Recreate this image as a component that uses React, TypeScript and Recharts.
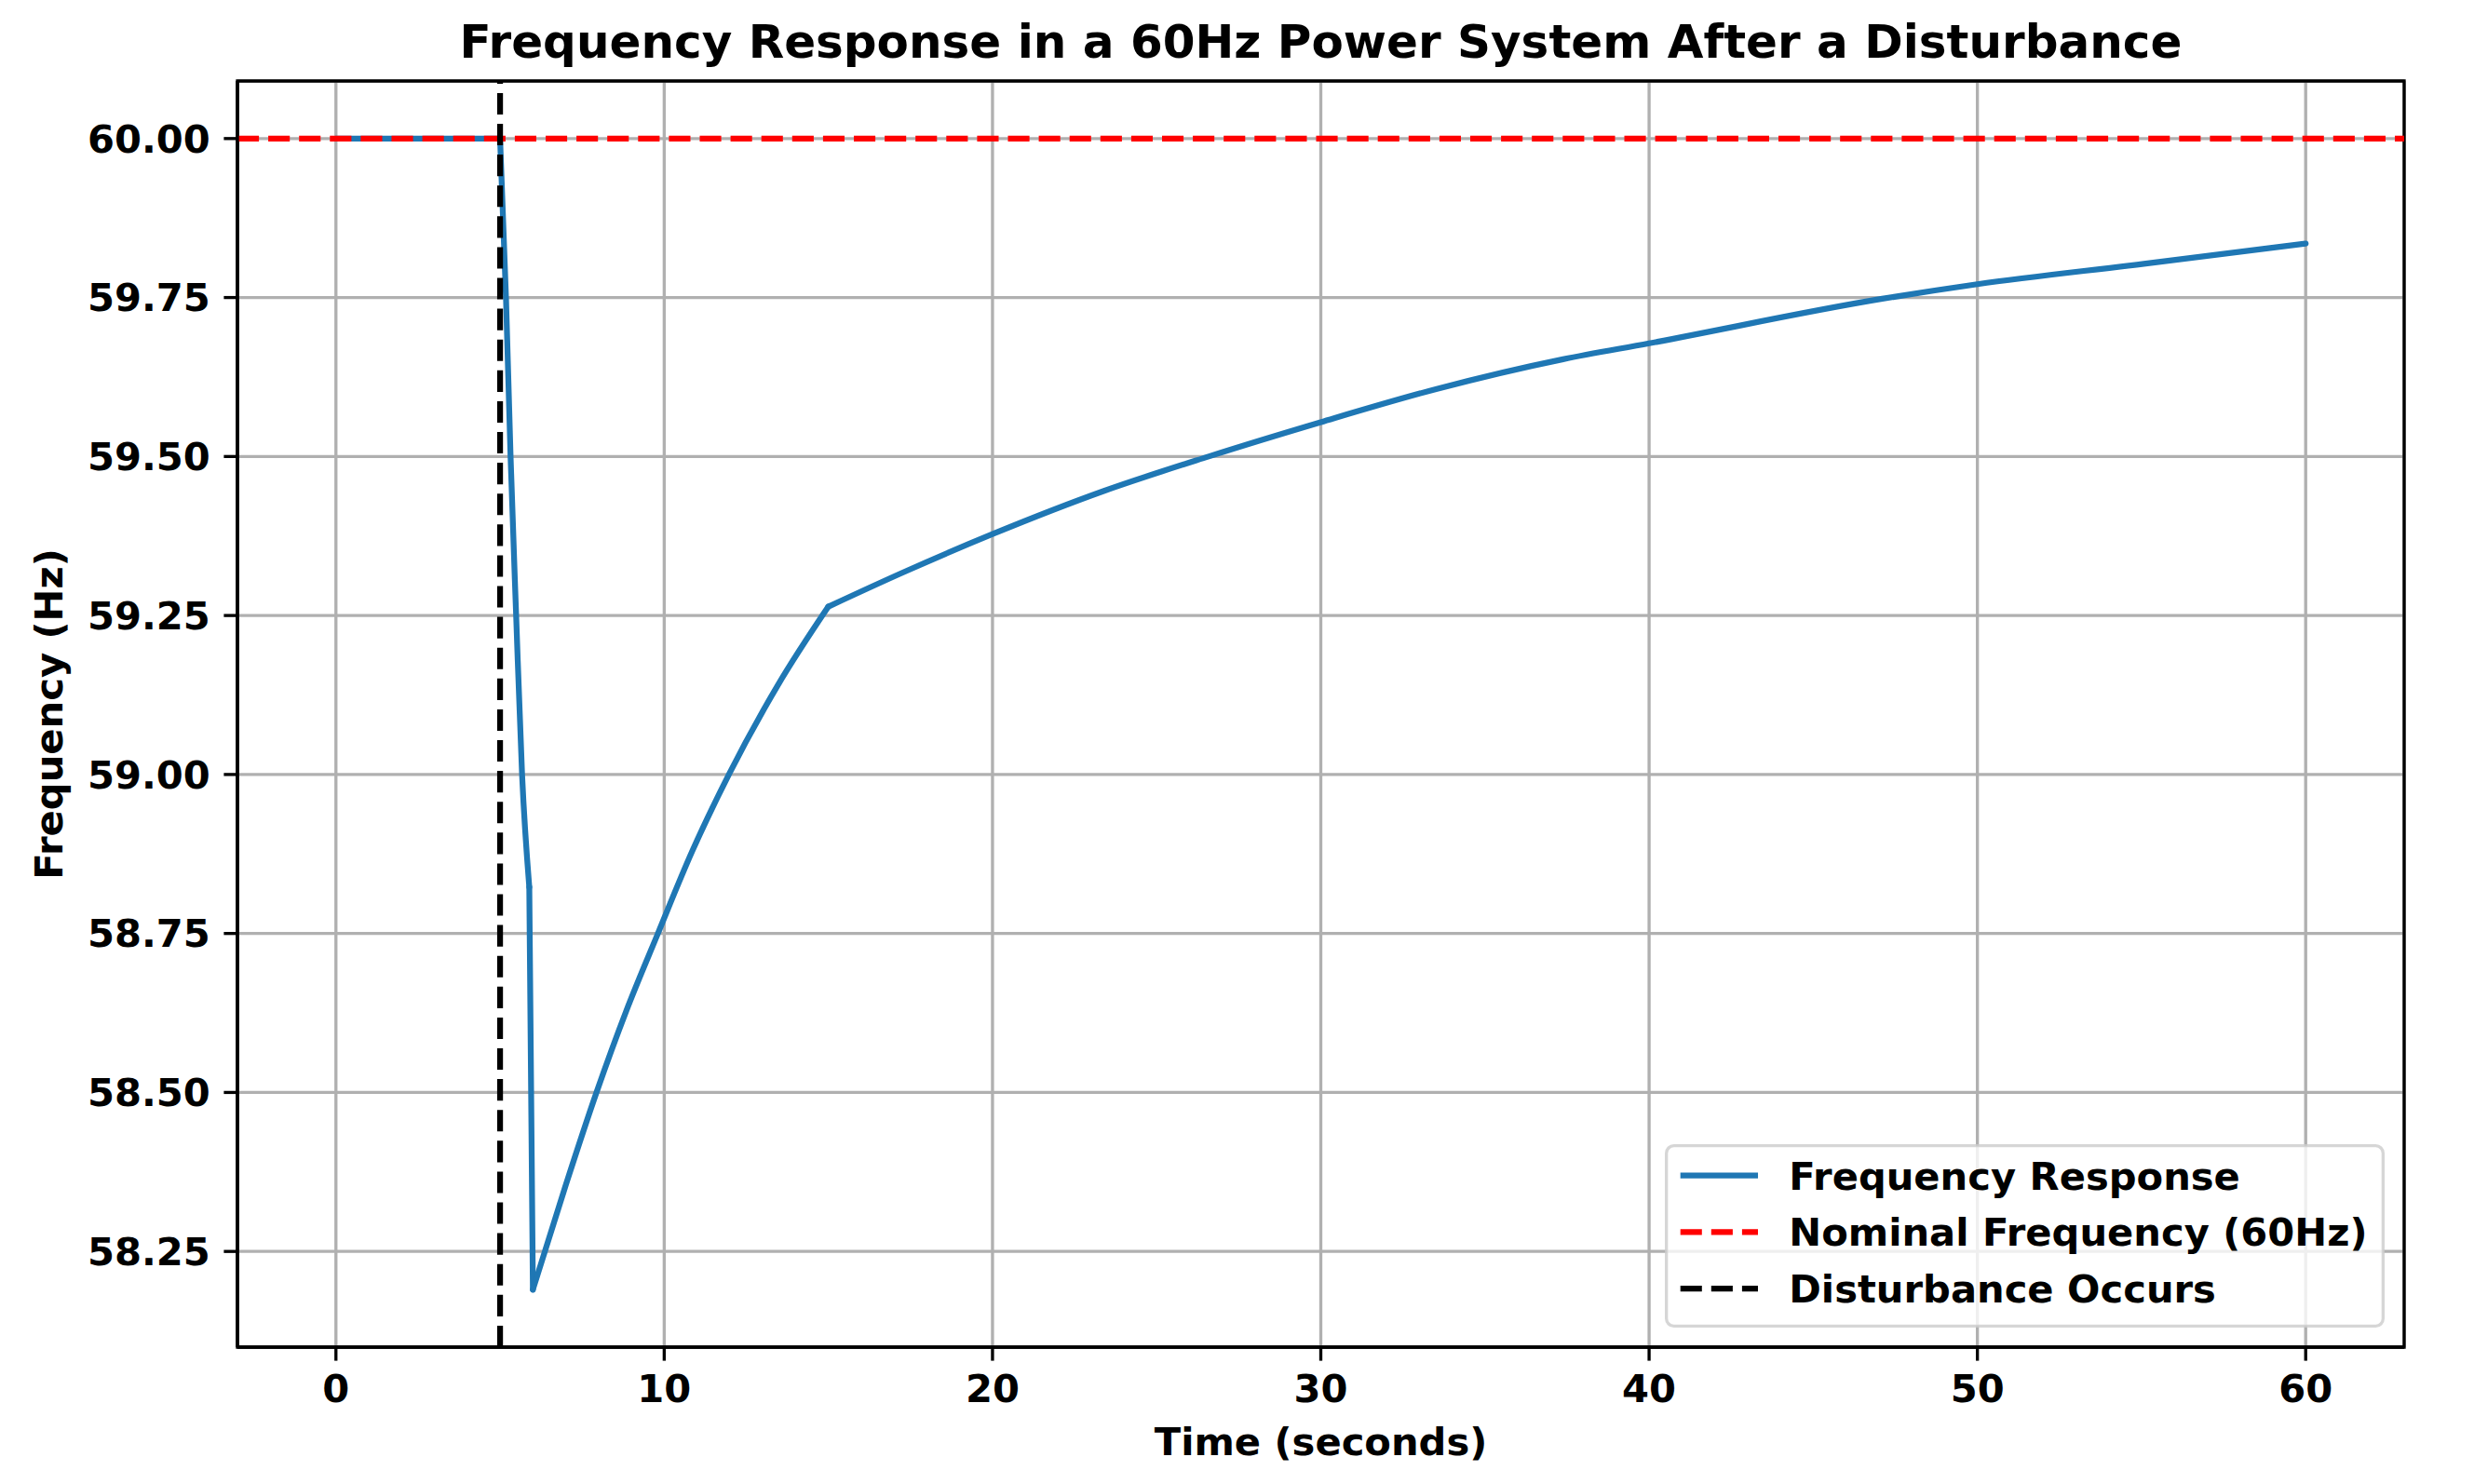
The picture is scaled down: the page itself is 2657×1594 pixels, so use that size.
import React from 'react';
import {
  LineChart,
  Line,
  XAxis,
  YAxis,
  CartesianGrid,
  ReferenceLine,
  ReferenceArea,
  Legend,
  Label,
} from 'recharts';

// ---- data ----
const timeSeconds = [
  0, 5.0, 5.18, 5.32, 5.49, 5.67, 5.89, 6.0, 6.98, 7.93, 8.85, 9.8, 10.85, 11.97,
  13.48, 15.0, 17.33, 20.0, 23.4, 26.58, 30.0, 33.51, 37.38, 40.0, 47.1, 50.0,
  55.07, 60.0,
];
const frequencyHz = [
  60.0, 60.0, 59.75, 59.5, 59.25, 59.0, 58.823, 58.19, 58.351, 58.499, 58.629,
  58.749, 58.879, 59.0, 59.142, 59.264, 59.319, 59.378, 59.446, 59.5, 59.554,
  59.606, 59.653, 59.678, 59.748, 59.771, 59.803, 59.835,
];
// index ranges of the response that are drawn as separate pieces (sharp kinks between them)
const segmentStart = [0, 1, 6, 7, 15];
const segmentEnd = [1, 6, 7, 15, 27];
const segmentCurve = ['linear', 'monotone', 'linear', 'monotone', 'monotone'];

const xTicks = [0, 10, 20, 30, 40, 50, 60];
const yTicks = [58.25, 58.5, 58.75, 59.0, 59.25, 59.5, 59.75, 60.0];
const nominalFrequency = 60;
const disturbanceTime = 5;
const legendLabels = [
  'Frequency Response',
  'Nominal Frequency (60Hz)',
  'Disturbance Occurs',
];
const legendColors = ['#1f77b4', '#ff0000', '#000000'];
const legendDashed = [false, true, true];

const chartTitle = 'Frequency Response in a 60Hz Power System After a Disturbance';
const xLabel = 'Time (seconds)';
const yLabel = 'Frequency (Hz)';

// ---- derived ----
const data = timeSeconds.map((t, i) => {
  const row: Record<string, number> = { t };
  segmentStart.forEach((s, k) => {
    if (i >= s && i <= segmentEnd[k]) row['s' + k] = frequencyHz[i];
  });
  return row;
});
const fMin = Math.min(...frequencyHz);
const fMax = Math.max(...frequencyHz);
const yPad = (fMax - fMin) * 0.05;
const yDomain: [number, number] = [fMin - yPad, fMax + yPad];
const tMin = Math.min(...timeSeconds);
const tMax = Math.max(...timeSeconds);
const xPad = (tMax - tMin) * 0.05;
const xDomain: [number, number] = [tMin - xPad, tMax + xPad];

// ---- style ----
const FONT = "'DejaVu Sans', 'Liberation Sans', sans-serif";
const FS = 41.67;
const LW = 6.25;
const DASH = '23.1 10';
const THIN = 3.33;
const TICK = 14.6;

const W = 2657;
const H = 1594;

const tickStyle = {
  fill: '#000',
  fontSize: FS,
  fontWeight: 'bold',
  fontFamily: FONT,
};

const LegendBox = () => (
  <svg width={773} height={197} style={{ display: 'block', overflow: 'visible' }}>
    <rect
      x={1.67}
      y={1.67}
      width={769.7}
      height={193.7}
      rx={8}
      ry={8}
      fill="#ffffff"
      fillOpacity={0.8}
      stroke="#cccccc"
      strokeOpacity={0.8}
      strokeWidth={THIN}
    />
    {legendLabels.map((label, i) => {
      const cy = 33.7 + i * 60.7;
      const by = 48.7 + i * 60.7;
      return (
        <g key={label}>
          <line
            x1={legendDashed[i] ? 16.7 : 19.8}
            x2={legendDashed[i] ? 100 : 96.9}
            y1={cy}
            y2={cy}
            stroke={legendColors[i]}
            strokeWidth={LW}
            strokeDasharray={legendDashed[i] ? DASH : undefined}
            strokeLinecap={legendDashed[i] ? 'butt' : 'square'}
          />
          <text
            x={133.3}
            y={by}
            fontFamily={FONT}
            fontSize={FS}
            fontWeight="bold"
            fill="#000"
          >
            {label}
          </text>
        </g>
      );
    })}
  </svg>
);

export default function App() {
  return (
    <div
      style={{
        position: 'absolute',
        left: 0,
        top: 0,
        width: W,
        height: H,
        background: '#ffffff',
      }}
    >
      <LineChart
        width={W}
        height={H}
        data={data}
        margin={{ top: 87, right: 75, bottom: 47, left: 55 }}
        style={{ fontFamily: FONT }}
      >
        <CartesianGrid stroke="#b0b0b0" strokeWidth={THIN} />
        <XAxis
          type="number"
          dataKey="t"
          domain={xDomain}
          ticks={xTicks}
          interval={0}
          allowDataOverflow
          height={100}
          tickSize={TICK}
          tickMargin={TICK}
          tick={tickStyle}
          tickLine={{ stroke: '#000', strokeWidth: THIN }}
          axisLine={{ stroke: '#000', strokeWidth: THIN }}
        >
          <Label
            content={() => (
              <text
                x={1418.5}
                y={1563}
                textAnchor="middle"
                fontFamily={FONT}
                fontSize={FS}
                fontWeight="bold"
                fill="#000"
              >
                {xLabel}
              </text>
            )}
          />
        </XAxis>
        <YAxis
          type="number"
          domain={yDomain}
          ticks={yTicks}
          interval={0}
          allowDataOverflow
          width={200}
          tickSize={TICK}
          tickMargin={TICK}
          tick={tickStyle}
          tickFormatter={(v: number) => v.toFixed(2)}
          tickLine={{ stroke: '#000', strokeWidth: THIN }}
          axisLine={{ stroke: '#000', strokeWidth: THIN }}
        >
          <Label
            content={() => (
              <text
                x={67}
                y={767}
                transform="rotate(-90, 67, 767)"
                textAnchor="middle"
                fontFamily={FONT}
                fontSize={FS}
                fontWeight="bold"
                fill="#000"
              >
                {yLabel}
              </text>
            )}
          />
        </YAxis>
        {segmentStart.map((s, k) => (
          <Line
            key={'s' + k}
            type={segmentCurve[k] as any}
            dataKey={'s' + k}
            name={legendLabels[0]}
            stroke={legendColors[0]}
            strokeWidth={LW}
            strokeLinejoin="round"
            strokeLinecap="round"
            dot={false}
            activeDot={false}
            connectNulls={false}
            isAnimationActive={false}
          />
        ))}
        <ReferenceLine
          y={nominalFrequency}
          stroke={legendColors[1]}
          strokeWidth={LW}
          strokeDasharray={DASH}
        />
        <ReferenceLine
          x={disturbanceTime}
          stroke={legendColors[2]}
          strokeWidth={LW}
          strokeDasharray={DASH}
        />
        <ReferenceArea
          x1={xDomain[0]}
          x2={xDomain[1]}
          y1={yDomain[0]}
          y2={yDomain[1]}
          fill="none"
          fillOpacity={0}
          stroke="#000"
          strokeWidth={THIN}
          ifOverflow="visible"
        />
        <Legend
          layout="horizontal"
          verticalAlign="middle"
          align="center"
          content={() => <LegendBox />}
          wrapperStyle={{ left: 1788, top: 1229, width: 773, height: 197, margin: 0, padding: 0 }}
        />
      </LineChart>
      <svg
        width={W}
        height={110}
        style={{ position: 'absolute', left: 0, top: 0, pointerEvents: 'none' }}
      >
        <text
          x={1418.5}
          y={62}
          textAnchor="middle"
          fontFamily={FONT}
          fontSize={50}
          fontWeight="bold"
          fill="#000"
        >
          {chartTitle}
        </text>
      </svg>
    </div>
  );
}
